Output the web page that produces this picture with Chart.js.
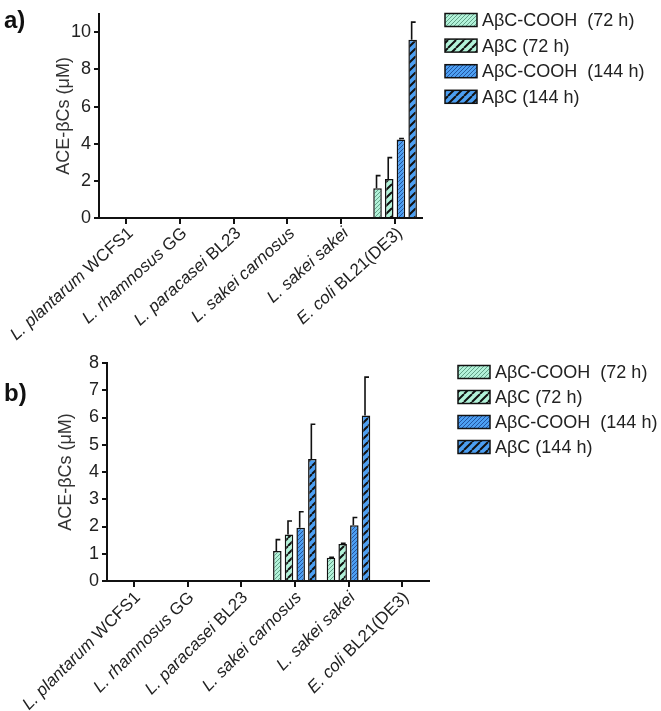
<!DOCTYPE html>
<html>
<head>
<meta charset="utf-8">
<script src="https://cdn.jsdelivr.net/npm/chart.js@4.4.1/dist/chart.umd.min.js"></script>
<style>
  body { margin: 0; background: #fff; }
  #wrapA { position: absolute; left: 0; top: 0; }
  #wrapB { position: absolute; left: 0; top: 330px; }
</style>
</head>
<body>
<div id="wrapA"><canvas id="chartA" width="661" height="350"></canvas></div>
<div id="wrapB"><canvas id="chartB" width="661" height="381"></canvas></div>
<script>
Chart.defaults.font.family = '"Liberation Sans", Arial, sans-serif';
Chart.defaults.color = '#222';

// strains (italic part + plain part)
const strainItalic = ['L. plantarum', 'L. rhamnosus', 'L. paracasei', 'L. sakei carnosus', 'L. sakei sakei', 'E. coli'];
const strainPlain = ['WCFS1', 'GG', 'BL23', '', '', 'BL21(DE3)'];
const strainLabels = strainItalic.map((s, i) => strainPlain[i] ? s + ' ' + strainPlain[i] : s);

const seriesNames = ['A\u03B2C-COOH  (72 h)', 'A\u03B2C (72 h)', 'A\u03B2C-COOH  (144 h)', 'A\u03B2C (144 h)'];

// panel a
const a_cooh72 = [null, null, null, null, null, 1.6];
const a_abc72 = [null, null, null, null, null, 2.1];
const a_cooh144 = [null, null, null, null, null, 4.23];
const a_abc144 = [null, null, null, null, null, 9.6];
const a_err_cooh72 = [0, 0, 0, 0, 0, 0.68];
const a_err_abc72 = [0, 0, 0, 0, 0, 1.15];
const a_err_cooh144 = [0, 0, 0, 0, 0, 0.05];
const a_err_abc144 = [0, 0, 0, 0, 0, 0.95];

// panel b
const b_cooh72 = [null, null, null, 1.1, 0.85, null];
const b_abc72 = [null, null, null, 1.71, 1.36, null];
const b_cooh144 = [null, null, null, 1.95, 2.05, null];
const b_abc144 = [null, null, null, 4.48, 6.07, null];
const b_err_cooh72 = [0, 0, 0, 0.42, 0.02, 0];
const b_err_abc72 = [0, 0, 0, 0.49, 0.02, 0];
const b_err_cooh144 = [0, 0, 0, 0.59, 0.28, 0];
const b_err_abc144 = [0, 0, 0, 1.27, 1.41, 0];

// hatch patterns
function hatch(bg, line, size, lw) {
  const c = document.createElement('canvas');
  c.width = size; c.height = size;
  const g = c.getContext('2d');
  g.fillStyle = bg;
  g.fillRect(0, 0, size, size);
  g.strokeStyle = line;
  g.lineWidth = lw;
  g.beginPath();
  for (let k = -1; k <= 1; k++) {
    g.moveTo(k * size, size);
    g.lineTo(k * size + size, 0);
  }
  g.stroke();
  return g.createPattern(c, 'repeat');
}

const mint = '#b2f2d9';
const blue = '#4c9ff2';
const fills = [
  hatch(mint, '#5a9880', 4, 0.9),
  hatch(mint, '#111', 8, 2),
  hatch(blue, '#1f4d96', 4, 0.9),
  hatch(blue, '#111', 8, 2)
];

function makeSets(vals, errs) {
  return vals.map((v, i) => ({
    label: seriesNames[i],
    data: v,
    err: errs[i],
    backgroundColor: fills[i],
    borderColor: '#111',
    borderWidth: 1.5,
    borderSkipped: 'start',
    categoryPercentage: 0.87,
    barPercentage: 0.73
  }));
}

// error bars (upper only, cap to the right)
const errorBars = {
  id: 'errorBars',
  afterDatasetsDraw(chart) {
    const ctx = chart.ctx;
    const ys = chart.scales.y;
    ctx.save();
    ctx.strokeStyle = '#111';
    ctx.lineWidth = 1.6;
    chart.data.datasets.forEach((ds, i) => {
      const meta = chart.getDatasetMeta(i);
      meta.data.forEach((el, j) => {
        const v = ds.data[j];
        const e = ds.err[j];
        if (v == null || !e) return;
        const yt = ys.getPixelForValue(v + e);
        const x = el.x - 1;
        ctx.beginPath();
        ctx.moveTo(x, el.y);
        ctx.lineTo(x, yt);
        ctx.moveTo(x - 0.8, yt);
        ctx.lineTo(x + 4, yt);
        ctx.stroke();
      });
    });
    ctx.restore();
  }
};

// rotated strain labels with italic genus part
const strainTicks = {
  id: 'strainTicks',
  afterDraw(chart, args, opts) {
    const ctx = chart.ctx;
    const xs = chart.scales.x;
    ctx.save();
    ctx.fillStyle = '#222';
    ctx.textBaseline = 'middle';
    ctx.textAlign = 'left';
    strainItalic.forEach((it, i) => {
      const x = xs.getPixelForTick(i);
      const y = xs.top;
      const fi = 'italic 17px "Liberation Sans", Arial, sans-serif';
      const fp = '17px "Liberation Sans", Arial, sans-serif';
      const plain = strainPlain[i] ? ' ' + strainPlain[i] : '';
      ctx.font = fi;
      const w1 = ctx.measureText(it).width;
      ctx.font = fp;
      const w2 = ctx.measureText(plain).width;
      ctx.save();
      ctx.translate(x + opts.dx, y + opts.dy);
      ctx.rotate(-opts.angle * Math.PI / 180);
      ctx.font = fi;
      ctx.fillText(it, -(w1 + w2), 0);
      ctx.font = fp;
      ctx.fillText(plain, -w2, 0);
      ctx.restore();
    });
    ctx.restore();
  }
};

// legend + panel letter
const sideLegend = {
  id: 'sideLegend',
  afterDraw(chart, args, opts) {
    const ctx = chart.ctx;
    ctx.save();
    chart.data.datasets.forEach((ds, i) => {
      const y = opts.top + i * opts.step;
      ctx.fillStyle = ds.backgroundColor;
      ctx.fillRect(opts.x, y - 6.5, 32, 13);
      ctx.strokeStyle = '#111';
      ctx.lineWidth = 1.5;
      ctx.strokeRect(opts.x, y - 6.5, 32, 13);
      ctx.fillStyle = '#222';
      ctx.font = '18px "Liberation Sans", Arial, sans-serif';
      ctx.textBaseline = 'middle';
      ctx.fillText(ds.label, opts.x + 37, y + 1);
    });
    ctx.fillStyle = '#111';
    ctx.font = 'bold 24px "Liberation Sans", Arial, sans-serif';
    ctx.textBaseline = 'alphabetic';
    ctx.fillText(opts.letter, 4, opts.letterY);
    ctx.restore();
  }
};

function makeChart(id, sets, yMax, pad, yWidth, xHeight, legendOpts, labelOpts) {
  return new Chart(document.getElementById(id), {
    type: 'bar',
    data: { labels: strainLabels, datasets: sets },
    plugins: [errorBars, strainTicks, sideLegend],
    options: {
      responsive: false,
      animation: false,
      layout: { padding: pad },
      plugins: {
        legend: { display: false },
        tooltip: { enabled: false },
        sideLegend: legendOpts,
        strainTicks: labelOpts
      },
      scales: {
        x: {
          grid: { drawOnChartArea: false, offset: false, color: '#111', lineWidth: 2, tickLength: 6 },
          border: { color: '#111', width: 2 },
          ticks: { autoSkip: false, color: 'rgba(0,0,0,0)', maxRotation: 0, font: { size: 6 } },
          afterFit(s) { s.height = xHeight; }
        },
        y: {
          min: 0,
          max: yMax,
          grid: { drawOnChartArea: false, color: '#111', lineWidth: 2, tickLength: 5 },
          border: { color: '#111', width: 2 },
          ticks: { stepSize: yMax > 10 ? 2 : 1, includeBounds: false, font: { size: 18 }, color: '#222', padding: 3 },
          title: { display: true, text: 'ACE-\u03B2Cs (\u03BCM)', font: { size: 18 }, color: '#333', padding: 4 },
          afterFit(s) { s.width = yWidth; }
        }
      }
    }
  });
}

makeChart('chartA',
  makeSets([a_cooh72, a_abc72, a_cooh144, a_abc144], [a_err_cooh72, a_err_abc72, a_err_cooh144, a_err_abc144]),
  11, { left: 49, right: 239, top: 2, bottom: 0 }, 50, 132,
  { x: 445, top: 20, step: 25.6, letter: 'a)', letterY: 28 },
  { angle: 42, dx: 5, dy: 13 });

makeChart('chartB',
  makeSets([b_cooh72, b_abc72, b_cooh144, b_abc144], [b_err_cooh72, b_err_abc72, b_err_cooh144, b_err_abc144]),
  8, { left: 51, right: 232, top: 33, bottom: 0 }, 56, 130,
  { x: 458, top: 42, step: 25, letter: 'b)', letterY: 71 },
  { angle: 45, dx: 4, dy: 14 });
</script>
</body>
</html>
